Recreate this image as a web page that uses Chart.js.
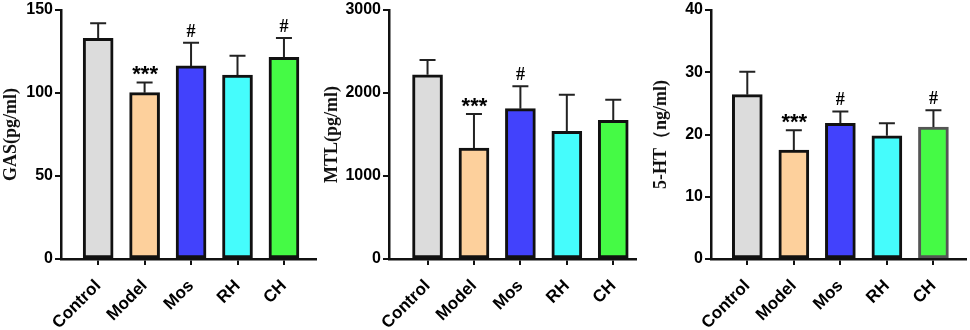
<!DOCTYPE html>
<html><head><meta charset="utf-8">
<script src="https://cdn.jsdelivr.net/npm/chart.js@4/dist/chart.umd.min.js"></script>
<style>
html,body{margin:0;padding:0;background:#fff}
body{width:970px;height:330px;overflow:hidden;position:relative}
canvas{position:absolute;top:0}
</style></head><body>
<canvas id="c1" width="322" height="330" style="left:0px"></canvas>
<canvas id="c2" width="318" height="330" style="left:322px"></canvas>
<canvas id="c3" width="330" height="330" style="left:640px"></canvas>
<script>
// ---- data ----
const categories = ['Control', 'Model', 'Mos', 'RH', 'CH'];

const gasMean = [133, 100.2, 116.3, 110.8, 121.5];
const gasSD   = [9, 6.2, 14, 11.7, 11.6];
const gasSig  = ['', '***', '#', '', '#'];
const gasTicks = [0, 50, 100, 150];

const mtlMean = [2220, 1337, 1811, 1538, 1671];
const mtlSD   = [178, 410, 270, 442, 249];
const mtlSig  = ['', '***', '#', '', ''];
const mtlTicks = [0, 1000, 2000, 3000];

const htMean = [26.4, 17.5, 21.8, 19.8, 21.2];
const htSD   = [3.7, 3.2, 1.9, 2.0, 2.7];
const htSig  = ['', '***', '#', '', '#'];
const htTicks = [0, 10, 20, 30, 40];

// ---- styles ----
const fills = ['#dcdcdc', '#fdd09c', '#4242fc', '#45fcfc', '#45fa45'];

const errPlugin = {
  id: 'err',
  afterDatasetsDraw(chart) {
    const cfg = chart.options.plugins.err;
    const ctx = chart.ctx;
    const ys = chart.scales.y;
    const meta = chart.getDatasetMeta(0);
    meta.data.forEach((bar, i) => {
      const top = ys.getPixelForValue(cfg.mean[i] + cfg.sd[i]);
      ctx.save();
      ctx.strokeStyle = '#222';
      ctx.lineWidth = 2;
      ctx.beginPath();
      ctx.moveTo(bar.x, bar.y);
      ctx.lineTo(bar.x, top);
      ctx.moveTo(bar.x - 8, top);
      ctx.lineTo(bar.x + 8, top);
      ctx.stroke();
      const s = cfg.sig[i];
      if (s) {
        ctx.fillStyle = '#000';
        ctx.textAlign = 'center';
        ctx.textBaseline = 'alphabetic';
        if (s === '#') {
          ctx.font = 'bold 18px "Liberation Serif"';
          ctx.fillText(s, bar.x, top - 6);
        } else {
          ctx.font = 'bold 22px "Liberation Sans"';
          ctx.fillText(s, bar.x + 0.5, top - 1);
        }
      }
      ctx.restore();
    });
  }
};

function makeChart(id, mean, sd, sig, ticks, title, o) {
  const ymax = ticks[ticks.length - 1];
  return new Chart(document.getElementById(id), {
    type: 'bar',
    data: {
      datasets: [{
        data: mean.map((v, i) => ({ x: i, y: v })),
        backgroundColor: fills,
        borderColor: o.borders,
        borderWidth: 3,
        borderSkipped: false,
        barThickness: 30
      }]
    },
    options: {
      responsive: false,
      animation: false,
      devicePixelRatio: 1,
      layout: { padding: { left: 0, right: o.padRight, top: 10, bottom: 0 } },
      plugins: {
        legend: { display: false },
        tooltip: { enabled: false },
        err: { mean: mean, sd: sd, sig: sig }
      },
      scales: {
        x: {
          type: 'linear',
          offset: false,
          bounds: 'data',
          min: o.xmin, max: o.xmax,
          afterBuildTicks: s => { s.ticks = categories.map((c, i) => ({ value: i })); },
          afterFit: s => { s.height = 71; s.paddingLeft = 0; s.paddingRight = 0; },
          ticks: {
            callback: v => categories[v],
            minRotation: 45, maxRotation: 45,
            autoSkip: false,
            color: '#000',
            padding: 11,
            font: { family: 'Liberation Sans', weight: 'bold', size: 17 }
          },
          grid: { display: true, offset: false, drawOnChartArea: false, drawTicks: true, tickLength: 6, color: '#111', lineWidth: 2 },
          border: { display: true, color: '#111', width: 2.5 }
        },
        y: {
          min: 0, max: ymax,
          afterBuildTicks: s => { s.ticks = ticks.map(v => ({ value: v })); },
          afterFit: s => { s.width = o.yWidth; s.paddingTop = 0; s.paddingBottom = 0; },
          ticks: {
            callback: v => String(v),
            color: '#000',
            padding: 2,
            font: { family: 'Liberation Sans', weight: 'bold', size: 16 }
          },
          grid: { display: true, drawOnChartArea: false, drawTicks: true, tickLength: 6, color: '#111', lineWidth: 2 },
          border: { display: true, color: '#111', width: 2.5 },
          title: {
            display: true, text: title, color: '#111',
            padding: { top: o.titlePad, bottom: 0 },
            font: { family: 'Liberation Serif', weight: 'bold', size: 18 }
          }
        }
      }
    },
    plugins: [errPlugin]
  });
}

const blackB = ['#111', '#111', '#111', '#111', '#111'];
makeChart('c1', gasMean, gasSD, gasSig, gasTicks, 'GAS(pg/ml)',
  { yWidth: 61, padRight: 6, xmin: -0.80, xmax: 4.69, titlePad: 1, borders: blackB });
makeChart('c2', mtlMean, mtlSD, mtlSig, mtlTicks, 'MTL(pg/ml)',
  { yWidth: 67, padRight: 4, xmin: -0.83, xmax: 4.49, titlePad: 0, borders: blackB });
makeChart('c3', htMean, htSD, htSig, htTicks, '5-HT（ng/ml)',
  { yWidth: 71, padRight: 4, xmin: -0.78, xmax: 4.70, titlePad: 11, borders: ['#111', '#111', '#111', '#111', '#555'] });
</script>
</body></html>
